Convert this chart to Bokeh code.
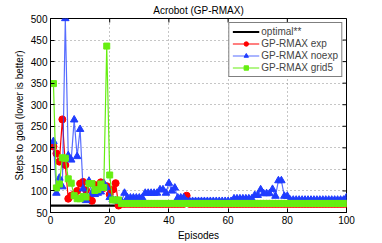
import math
from bokeh.plotting import figure
from bokeh.models import Range1d, Legend, LegendItem, FixedTicker
from bokeh.embed import file_html
from bokeh.resources import INLINE

episodes = list(range(1, 101))
optimal_x = [0, 100]
optimal_y = [66, 66]

exp_y = [203, 187, 168, 266, 160, 82, 89, 92, 100, 117, 121, 102, 84, 77, 114, 110, 120, 107, 111, 92,
         103, 118, 66] + [70] * 22 + [89] + [70] * 54
noexp_y = [215, 95, 130, 110, 500, 182, 172, 265, 180, 243, 105, 78, 123, 95, 92, 95, 98, 118, 108, 85,
           80, 78, 76, 76, 95, 84, 84, 84, 84, 84, 84, 95, 95, 95, 95, 95, 103, 103, 95, 118,
           100, 107, 84, 84, 84] + [76] * 16 + [82] * 7 + [90, 90, 103, 94, 94, 94, 104, 88, 124, 124, 88, 88] + [79] * 19 + [85]
grid5_y = [349, 107, 116, 177, 176, 128, 118, 89, 82, 82, 87, 86, 117, 117, 101, 103, 116, 108, 436, 137,
           79, 79, 79] + [71] * 77

x_ticks = [0, 20, 40, 60, 80, 100]
y_ticks = [50, 100, 150, 200, 250, 300, 350, 400, 450, 500]
x_max = 100
y_max = 500

FONT = "Liberation Sans"
FS = "10px"

W, H = 382, 243
BL, BR, BT, BB = 50, 36, 18, 26

p = figure(width=W, height=H, output_backend="svg", toolbar_location=None,
           x_range=Range1d(0, x_max), y_range=Range1d(50, y_max),
           min_border_left=BL, min_border_right=BR, min_border_top=BT, min_border_bottom=BB,
           title="Acrobot (GP-RMAX)")
p.title.align = "center"
p.title.text_font = FONT
p.title.text_font_size = FS
p.title.text_font_style = "normal"
p.title.text_color = "black"
p.title.standoff = 5
p.background_fill_color = "white"
p.outline_line_color = "black"
p.outline_line_width = 1

for ax in (p.xaxis[0], p.yaxis[0]):
    ax.major_tick_in = 4
    ax.major_tick_out = 0
    ax.minor_tick_line_color = None
    ax.axis_line_color = "black"
    ax.major_label_text_font = FONT
    ax.major_label_text_font_size = FS
    ax.major_label_text_color = "black"
    ax.axis_label_text_font = FONT
    ax.axis_label_text_font_size = FS
    ax.axis_label_text_font_style = "normal"
    ax.axis_label_text_color = "black"
    ax.major_label_standoff = 3
    ax.axis_label_standoff = 3

p.xaxis[0].ticker = FixedTicker(ticks=x_ticks)
p.yaxis[0].ticker = FixedTicker(ticks=y_ticks)
p.xaxis[0].axis_label = "Episodes"
p.yaxis[0].axis_label = "Steps to goal (lower is better)"

p.xgrid.ticker = FixedTicker(ticks=x_ticks)
p.ygrid.ticker = FixedTicker(ticks=y_ticks)
for g in (p.xgrid[0], p.ygrid[0]):
    g.grid_line_color = "#8c8c8c"
    g.grid_line_dash = "1 3"
    g.grid_line_width = 1

# inward ticks on the top and right edges (half of each dash is clipped by the frame)
p.scatter([x_max] * len(y_ticks), y_ticks, marker="dash", size=8, line_color="black", line_width=1)
p.scatter(x_ticks, [y_max] * len(x_ticks), marker="dash", size=8, angle=math.pi / 2,
          line_color="black", line_width=1)

RED = "#ff0000"
BLUE = "#1f3cff"
GREEN = "#66ee11"

r_opt = p.line(optimal_x, optimal_y, line_color="black", line_width=2.2)
r_exp_l = p.line(episodes, exp_y, line_color=RED, line_width=1.2)
r_exp_m = p.scatter(episodes, exp_y, marker="circle", size=7, fill_color=RED, line_color=RED)
r_no_l = p.line(episodes, noexp_y, line_color=BLUE, line_width=1.2, line_alpha=0.75)
r_no_m = p.scatter(episodes, noexp_y, marker="triangle", size=7.5, fill_color=BLUE, line_color=BLUE)
r_g_l = p.line(episodes, grid5_y, line_color=GREEN, line_width=1.2)
r_g_m = p.scatter(episodes, grid5_y, marker="square", size=6, fill_color=GREEN, line_color=GREEN)

legend = Legend(items=[
    LegendItem(label="optimal**", renderers=[r_opt]),
    LegendItem(label="GP-RMAX exp", renderers=[r_exp_l, r_exp_m]),
    LegendItem(label="GP-RMAX noexp", renderers=[r_no_l, r_no_m]),
    LegendItem(label="GP-RMAX grid5", renderers=[r_g_l, r_g_m]),
], location="top_right")
legend.label_text_font = FONT
legend.label_text_font_size = FS
legend.label_height = 11
legend.glyph_height = 11
legend.glyph_width = 27
legend.label_standoff = 2
legend.spacing = 1
legend.padding = 3
legend.margin = 4
legend.border_line_color = "black"
legend.border_line_width = 1
legend.background_fill_alpha = 1
p.add_layout(legend, "center")

open("out.html", "w").write(file_html(p, INLINE))
